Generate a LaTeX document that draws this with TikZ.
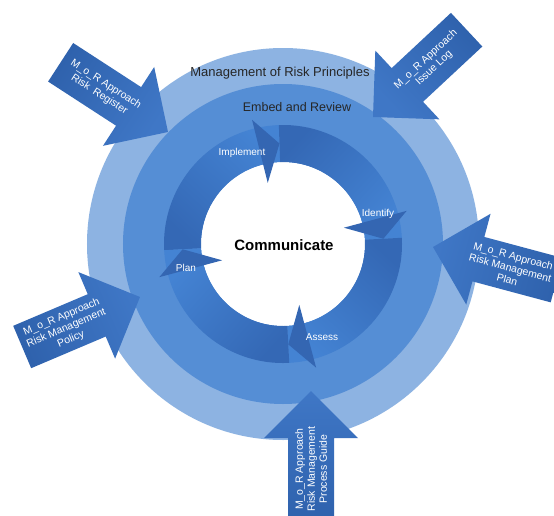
\documentclass[tikz,border=0pt]{standalone}
\usepackage{fontspec}
\setmainfont{Liberation Sans}

\definecolor{principles}{HTML}{8DB3E2}
\definecolor{embed}{HTML}{558ED5}
\definecolor{cycletail}{HTML}{3468B5}
\definecolor{cyclefront}{HTML}{4483D3}
\definecolor{cyclehead}{HTML}{3466B2}
\definecolor{docdark}{HTML}{2F62AD}
\definecolor{doclight}{HTML}{3F77C6}
\definecolor{labelgray}{HTML}{262626}

\tikzset{
	cyclebody/.style={bottom color=cycletail, top color=cyclefront},
	docarrow/.style={bottom color=docdark, top color=doclight},
	doctext/.style={text=white, align=center, font=\fontsize{10.5}{12}\selectfont},
	steplabel/.style={text=white, font=\fontsize{10}{12}\selectfont},
	ringlabel/.style={text=labelgray, font=\fontsize{13}{15}\selectfont},
}

\begin{document}
\begin{tikzpicture}[x=1pt, y=1pt]
	\def\rhole{82}
	\def\rcycle{119}
	\def\rembed{160}
	\def\rprinc{196}

	\fill[white] (-283,-271) rectangle (271,244);
	\useasboundingbox (-283,-271) rectangle (271,244);

	\fill[principles] (0,0) circle (\rprinc);
	\fill[embed] (0,0) circle (\rembed);
	\fill[white] (0,0) circle (\rhole);

	% the four steps of the cycle, clockwise
	\shade[cyclebody, shading angle=-43] (183:\rcycle) arc[start angle=183, end angle=92, radius=\rcycle]
		-- (92:\rhole) arc[start angle=92, end angle=183, radius=\rhole] -- cycle;
	\shade[cyclebody, shading angle=-133] (92:\rcycle) arc[start angle=92, end angle=3, radius=\rcycle]
		-- (3:\rhole) arc[start angle=3, end angle=92, radius=\rhole] -- cycle;
	\shade[cyclebody, shading angle=138] (3:\rcycle) arc[start angle=3, end angle=-87, radius=\rcycle]
		-- (-87:\rhole) arc[start angle=-87, end angle=3, radius=\rhole] -- cycle;
	\shade[cyclebody, shading angle=48] (-87:\rcycle) arc[start angle=-87, end angle=-177, radius=\rcycle]
		-- (-177:\rhole) arc[start angle=-177, end angle=-87, radius=\rhole] -- cycle;

	\fill[cyclehead] (104:63) -- (104:128) -- (92:100.5) -- cycle;
	\fill[cyclehead] (15:63) -- (15:128) -- (3:100.5) -- cycle;
	\fill[cyclehead] (-75:63) -- (-75:128) -- (-87:100.5) -- cycle;
	\fill[cyclehead] (-165:63) -- (-165:128) -- (-177:100.5) -- cycle;

	\node[steplabel] (implement) at (-41,91) {Implement};
	\node[steplabel] (identify) at (95,30) {Identify};
	\node[steplabel] (assess) at (39,-93) {Assess};
	\node[steplabel] (plan) at (-97,-24) {Plan};

	\node[font=\bfseries\fontsize{15}{18}\selectfont] (communicate) at (1,-1) {Communicate};
	\node[ringlabel] (principles) at (-3,171) {Management of Risk Principles};
	\node[ringlabel, font=\fontsize{12.5}{15}\selectfont] (embedreview) at (14,137) {Embed and Review};

	% M_o_R approach documents pointing in
	\begin{scope}[shift={(-115,112)}, rotate=-33]
		\shade[docarrow, shading angle=-123] (0,0) -- (-47,47) -- (-47,23) -- (-128,23) -- (-128,-23) -- (-47,-23) -- (-47,-47) -- cycle;
		\node[doctext, rotate=-33] (register) at (-78,0) {M\_o\_R Approach\\Risk\enspace Register};
	\end{scope}

	\begin{scope}[shift={(90,127)}, rotate=-137]
		\shade[docarrow, shading angle=133] (0,0) -- (-47,47) -- (-47,23) -- (-128,23) -- (-128,-23) -- (-47,-23) -- (-47,-47) -- cycle;
		\node[doctext, rotate=43] (issuelog) at (-78,0) {M\_o\_R Approach\\Issue Log};
	\end{scope}

	\begin{scope}[shift={(150,-3)}, rotate=165]
		\shade[docarrow, shading angle=75] (0,0) -- (-47,47) -- (-47,23) -- (-128,23) -- (-128,-23) -- (-47,-23) -- (-47,-47) -- cycle;
		\node[doctext, rotate=-15] (mgmtplan) at (-80,0) {M\_o\_R Approach\\Risk Management\\Plan};
	\end{scope}

	\begin{scope}[shift={(28,-147)}, rotate=90]
		\shade[docarrow, shading angle=0] (0,0) -- (-47,47) -- (-47,23) -- (-128,23) -- (-128,-23) -- (-47,-23) -- (-47,-47) -- cycle;
		\node[doctext, rotate=90] (processguide) at (-78,0) {M\_o\_R Approach\\Risk Management\\Process Guide};
	\end{scope}

	\begin{scope}[shift={(-143,-53)}, rotate=23]
		\shade[docarrow, shading angle=-67] (0,0) -- (-47,47) -- (-47,23) -- (-128,23) -- (-128,-23) -- (-47,-23) -- (-47,-47) -- cycle;
		\node[doctext, rotate=23] (policy) at (-80,0) {M\_o\_R Approach\\Risk Management\\Policy};
	\end{scope}
\end{tikzpicture}
\end{document}
